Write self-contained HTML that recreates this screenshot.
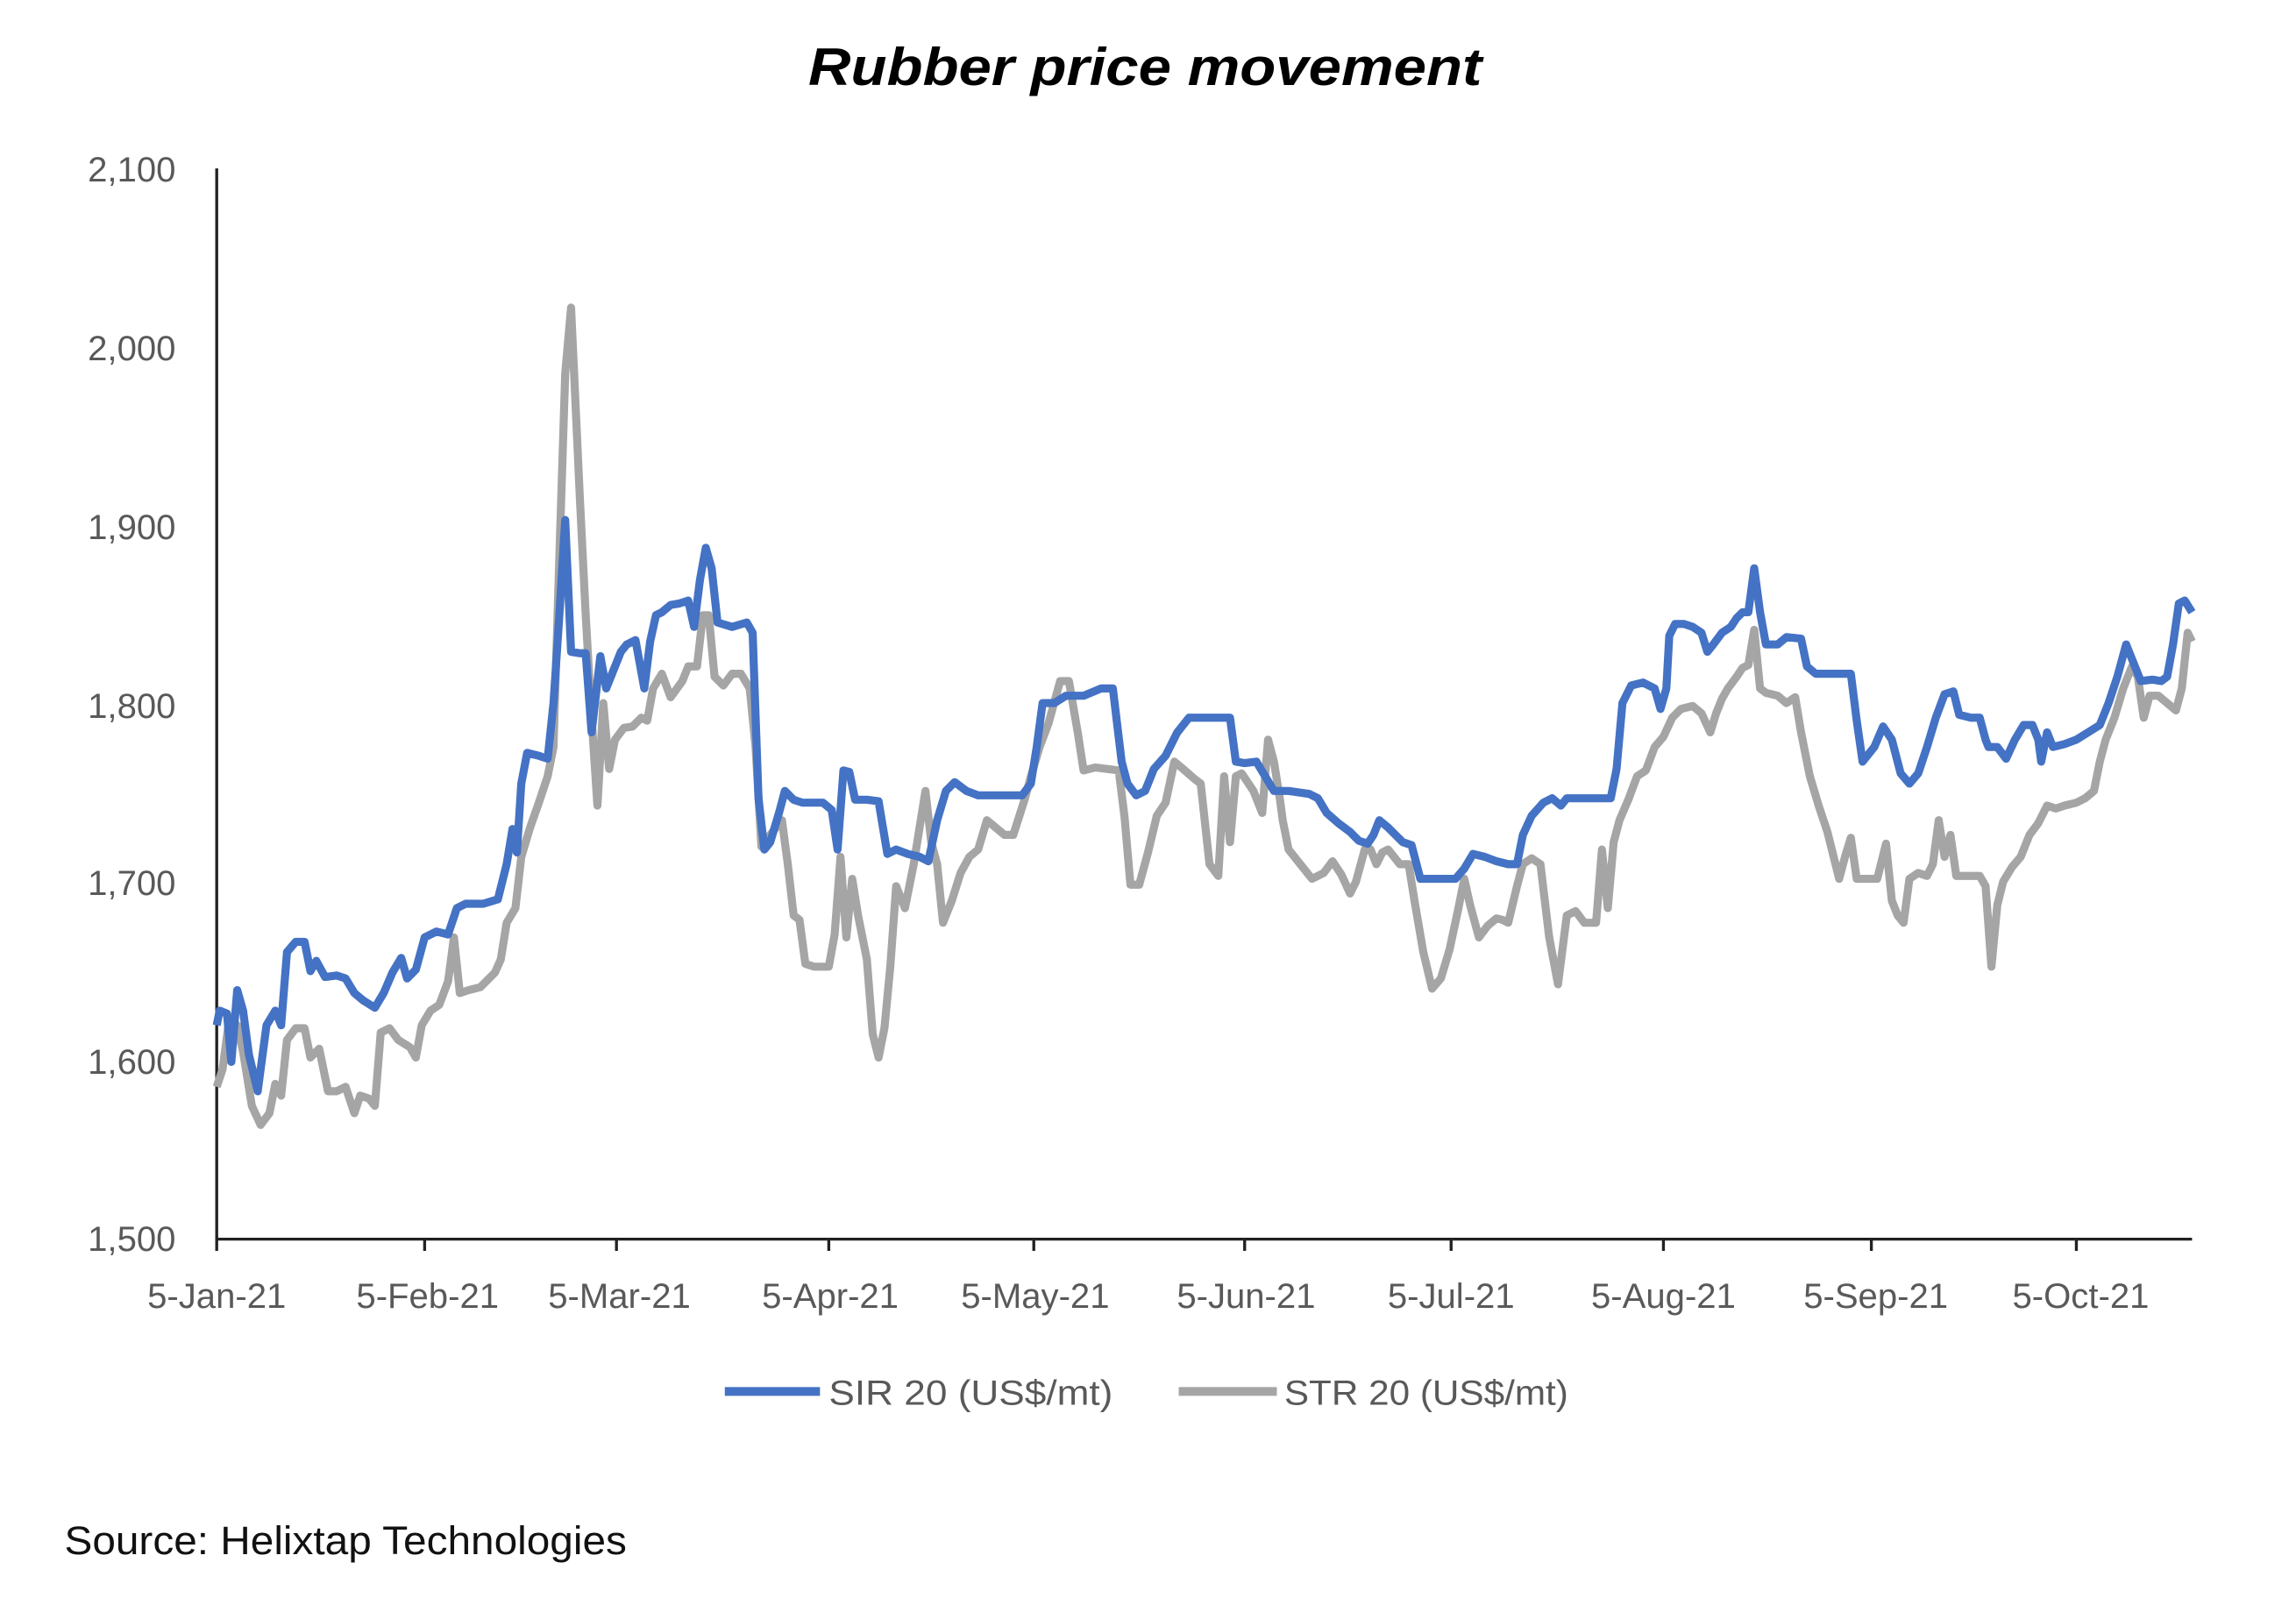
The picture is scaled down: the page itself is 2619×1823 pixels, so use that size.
<!DOCTYPE html>
<html><head><meta charset="utf-8"><style>
html,body{margin:0;padding:0;background:#fff;}
svg{display:block;}
</style></head><body>
<svg width="2619" height="1823" viewBox="0 0 1568 1091" preserveAspectRatio="none" xmlns="http://www.w3.org/2000/svg">
<rect width="1568" height="1091" fill="#fff"/>
<text x="782" y="58" text-anchor="middle" font-family="Liberation Sans, sans-serif" font-weight="bold" font-style="italic" font-size="36" fill="#000" textLength="460" lengthAdjust="spacingAndGlyphs">Rubber price movement</text>
<g font-family="Liberation Sans, sans-serif" font-size="24" fill="#595959" text-anchor="end">
<text x="120" y="124">2,100</text>
<text x="120" y="246">2,000</text>
<text x="120" y="368">1,900</text>
<text x="120" y="490">1,800</text>
<text x="120" y="611">1,700</text>
<text x="120" y="733">1,600</text>
<text x="120" y="854">1,500</text>
</g>
<g stroke="#222" stroke-width="2" fill="none">
<line x1="148" y1="115" x2="148" y2="846"/>
<line x1="147" y1="846" x2="1497" y2="846"/>
<path d="M148 846v8M290 846v8M421 846v8M566 846v8M706 846v8M850 846v8M991 846v8M1136 846v8M1278 846v8M1418 846v8"/>
</g>
<g font-family="Liberation Sans, sans-serif" font-size="24" fill="#595959" text-anchor="middle">
<text x="148" y="893">5-Jan-21</text>
<text x="292" y="893">5-Feb-21</text>
<text x="423" y="893">5-Mar-21</text>
<text x="567" y="893">5-Apr-21</text>
<text x="707" y="893">5-May-21</text>
<text x="851" y="893">5-Jun-21</text>
<text x="991" y="893">5-Jul-21</text>
<text x="1136" y="893">5-Aug-21</text>
<text x="1281" y="893">5-Sep-21</text>
<text x="1421" y="893">5-Oct-21</text>
</g>
<polyline fill="none" stroke="#a5a5a5" stroke-width="5.5" stroke-linejoin="round" points="148,742 152,730 156,700 162,700 166,718 172,755 178,768 184,760 188,740 192,748 196,710 202,702 208,702 212,722 218,716 224,745 230,745 236,742 242,760 246,748 252,750 256,755 260,705 266,702 272,710 280,715 284,722 288,700 294,690 300,686 306,670 310,640 314,678 320,676 328,674 338,664 342,655 346,630 352,620 356,585 362,565 368,548 374,530 378,510 382,380 386,255 390,210 396,340 400,420 404,490 408,550 412,480 416,525 420,505 426,497 432,496 438,490 442,492 446,470 452,460 458,476 466,465 470,455 476,455 480,420 484,420 488,462 494,468 500,460 506,460 512,470 516,510 520,578 526,570 534,560 538,590 542,625 546,628 550,658 556,660 566,660 570,638 574,585 578,640 582,600 586,625 592,655 596,706 600,722 604,702 608,660 612,605 618,620 624,590 628,565 632,540 636,575 640,590 644,630 650,615 656,596 662,585 668,580 674,560 680,565 686,570 692,570 700,545 704,530 710,510 716,494 724,465 730,465 736,500 740,526 748,524 756,525 764,526 768,558 772,604 778,604 784,582 790,557 796,548 802,520 808,525 816,532 820,535 826,590 832,598 836,530 840,575 844,530 848,528 856,540 862,555 866,505 870,520 874,545 876,560 880,580 888,590 896,600 904,596 910,588 916,597 922,610 926,602 932,580 936,580 940,590 944,582 948,580 956,590 962,590 966,615 972,650 978,675 984,668 990,648 996,620 1000,600 1004,618 1010,640 1016,632 1022,627 1026,628 1030,630 1036,605 1040,590 1046,586 1052,590 1058,640 1064,672 1070,625 1076,622 1082,630 1090,630 1094,580 1098,620 1102,575 1106,560 1112,546 1118,530 1124,526 1130,510 1136,503 1142,490 1148,484 1156,482 1162,487 1168,500 1172,487 1176,477 1180,470 1186,462 1190,456 1194,454 1198,430 1202,470 1206,473 1214,475 1220,480 1226,476 1230,500 1236,530 1242,550 1248,568 1256,600 1260,585 1264,572 1268,600 1276,600 1282,600 1288,576 1292,615 1296,625 1300,630 1304,600 1310,596 1316,598 1320,590 1324,560 1328,585 1332,570 1336,598 1344,598 1352,598 1356,605 1360,660 1364,618 1368,602 1374,592 1380,585 1386,570 1392,562 1398,550 1404,552 1410,550 1418,548 1424,545 1430,540 1434,520 1438,505 1444,490 1450,470 1456,455 1460,462 1464,490 1468,475 1474,475 1480,480 1486,485 1490,470 1494,432 1497,438"/>
<polyline fill="none" stroke="#4472c4" stroke-width="5.5" stroke-linejoin="round" points="148,700 150,690 155,692 158,725 162,676 166,690 170,720 176,745 182,700 188,690 192,700 196,650 202,643 208,643 212,663 216,656 222,667 230,666 236,668 242,678 248,683 256,688 262,678 268,664 274,654 278,668 284,662 290,640 298,636 306,638 312,620 318,617 330,617 340,614 346,590 350,566 353,582 356,535 360,514 368,516 374,518 378,480 382,420 386,355 390,445 396,446 400,446 404,500 410,448 414,470 418,460 424,445 428,440 434,437 440,470 444,438 448,420 452,418 458,413 464,412 470,410 474,428 478,396 482,374 486,388 490,425 500,428 510,425 514,432 518,545 522,580 526,575 532,555 536,540 542,546 548,548 556,548 562,548 568,553 572,580 576,526 580,527 584,546 592,546 600,547 606,583 612,580 620,583 628,585 634,588 640,560 646,540 652,534 660,540 668,543 676,543 686,543 698,543 704,535 708,510 712,480 720,480 728,475 740,475 752,470 760,470 766,520 770,535 776,543 782,540 788,525 796,516 804,500 812,490 820,490 834,490 840,490 844,520 850,521 858,520 864,530 870,540 880,540 894,542 900,545 906,555 914,562 922,568 928,574 934,576 938,570 942,560 948,565 958,575 964,577 970,600 980,600 994,600 1000,593 1006,583 1014,585 1022,588 1030,590 1036,590 1040,570 1046,557 1054,548 1060,545 1066,550 1070,545 1078,545 1090,545 1100,545 1104,525 1108,480 1114,468 1122,466 1130,470 1134,484 1138,470 1140,434 1144,426 1150,426 1156,428 1162,432 1166,445 1170,440 1176,432 1182,428 1186,422 1190,418 1194,418 1198,388 1202,418 1206,440 1214,440 1220,435 1230,436 1234,455 1240,460 1250,460 1264,460 1268,492 1272,520 1280,510 1286,496 1292,505 1298,528 1304,535 1310,528 1316,510 1322,490 1328,474 1334,472 1338,488 1346,490 1352,490 1356,505 1358,510 1364,510 1370,518 1376,505 1382,495 1388,495 1392,505 1394,520 1398,500 1402,510 1410,508 1418,505 1426,500 1434,495 1440,480 1446,462 1452,440 1456,450 1462,465 1470,464 1476,465 1480,462 1484,440 1488,412 1492,410 1497,418"/>
<line x1="495" y1="950" x2="560" y2="950" stroke="#4472c4" stroke-width="6"/>
<text x="566" y="959" font-family="Liberation Sans, sans-serif" font-size="24" fill="#595959" textLength="194" lengthAdjust="spacingAndGlyphs">SIR 20 (US$/mt)</text>
<line x1="805" y1="950" x2="872" y2="950" stroke="#a5a5a5" stroke-width="6"/>
<text x="877" y="959" font-family="Liberation Sans, sans-serif" font-size="24" fill="#595959" textLength="194" lengthAdjust="spacingAndGlyphs">STR 20 (US$/mt)</text>
<text x="44" y="1061" font-family="Liberation Sans, sans-serif" font-size="27" fill="#111" textLength="384" lengthAdjust="spacingAndGlyphs">Source: Helixtap Technologies</text>
</svg>
</body></html>
